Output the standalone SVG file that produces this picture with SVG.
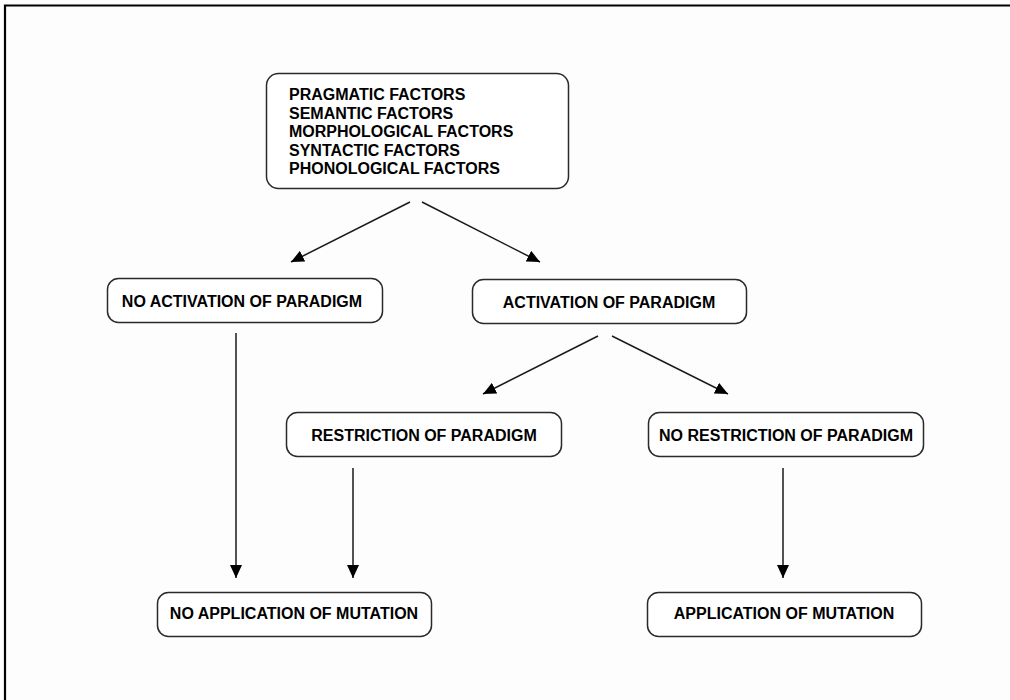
<svg xmlns="http://www.w3.org/2000/svg" width="1010" height="700" viewBox="0 0 1010 700">
  <style>
    .box { fill: #ffffff; stroke: #2a2a2a; stroke-width: 1.5; }
    .lbl { font-family: "Liberation Sans", Arial, sans-serif; font-weight: bold; font-size: 16px; fill: #000000; }
    .c { text-anchor: middle; }
    .edge { stroke: #1a1a1a; stroke-width: 1.5; fill: none; marker-end: url(#arr); }
  </style>
  <defs>
    <marker id="arr" markerUnits="userSpaceOnUse" markerWidth="14" markerHeight="12" refX="13" refY="6" orient="auto">
      <path d="M0,0 L13,6 L0,12 z" fill="#000000"/>
    </marker>
  </defs>
  <rect x="0" y="0" width="1010" height="700" fill="#fdfdfd"/>
  <path d="M5,700 V5.5 H1010" fill="none" stroke="#000000" stroke-width="2.2"/>

  <g id="connectors">
    <line class="edge" x1="410" y1="202" x2="291" y2="262"/>
    <line class="edge" x1="422" y1="202" x2="540" y2="262"/>
    <line class="edge" x1="598" y1="336" x2="483" y2="394"/>
    <line class="edge" x1="612" y1="336" x2="728" y2="394"/>
    <line class="edge" x1="236" y1="333" x2="236" y2="578"/>
    <line class="edge" x1="353" y1="468" x2="353" y2="578"/>
    <line class="edge" x1="783" y1="468" x2="783" y2="578"/>
  </g>

  <g id="factors">
    <rect class="box" x="266.5" y="73.5" width="302" height="115" rx="12"/>
    <text class="lbl" x="289" y="100">PRAGMATIC FACTORS</text>
    <text class="lbl" x="289" y="118.5">SEMANTIC FACTORS</text>
    <text class="lbl" x="289" y="137">MORPHOLOGICAL FACTORS</text>
    <text class="lbl" x="289" y="155.5">SYNTACTIC FACTORS</text>
    <text class="lbl" x="289" y="174">PHONOLOGICAL FACTORS</text>
  </g>

  <g id="no-activation">
    <rect class="box" x="107.5" y="278.5" width="275" height="44" rx="11"/>
    <text class="lbl c" x="242" y="307">NO ACTIVATION OF PARADIGM</text>
  </g>

  <g id="activation">
    <rect class="box" x="472.5" y="279.5" width="274" height="44" rx="11"/>
    <text class="lbl c" x="609" y="307.5">ACTIVATION OF PARADIGM</text>
  </g>

  <g id="restriction">
    <rect class="box" x="286.5" y="412.5" width="275" height="44" rx="11"/>
    <text class="lbl c" x="424" y="440.5">RESTRICTION OF PARADIGM</text>
  </g>

  <g id="no-restriction">
    <rect class="box" x="648.5" y="412.5" width="275" height="44" rx="11"/>
    <text class="lbl c" x="786" y="440.5">NO RESTRICTION OF PARADIGM</text>
  </g>

  <g id="no-application">
    <rect class="box" x="157.5" y="592.5" width="274" height="44" rx="11"/>
    <text class="lbl c" x="294" y="618.5">NO APPLICATION OF MUTATION</text>
  </g>

  <g id="application">
    <rect class="box" x="647.5" y="592.5" width="274" height="44" rx="11"/>
    <text class="lbl c" x="784" y="618.5">APPLICATION OF MUTATION</text>
  </g>
</svg>
